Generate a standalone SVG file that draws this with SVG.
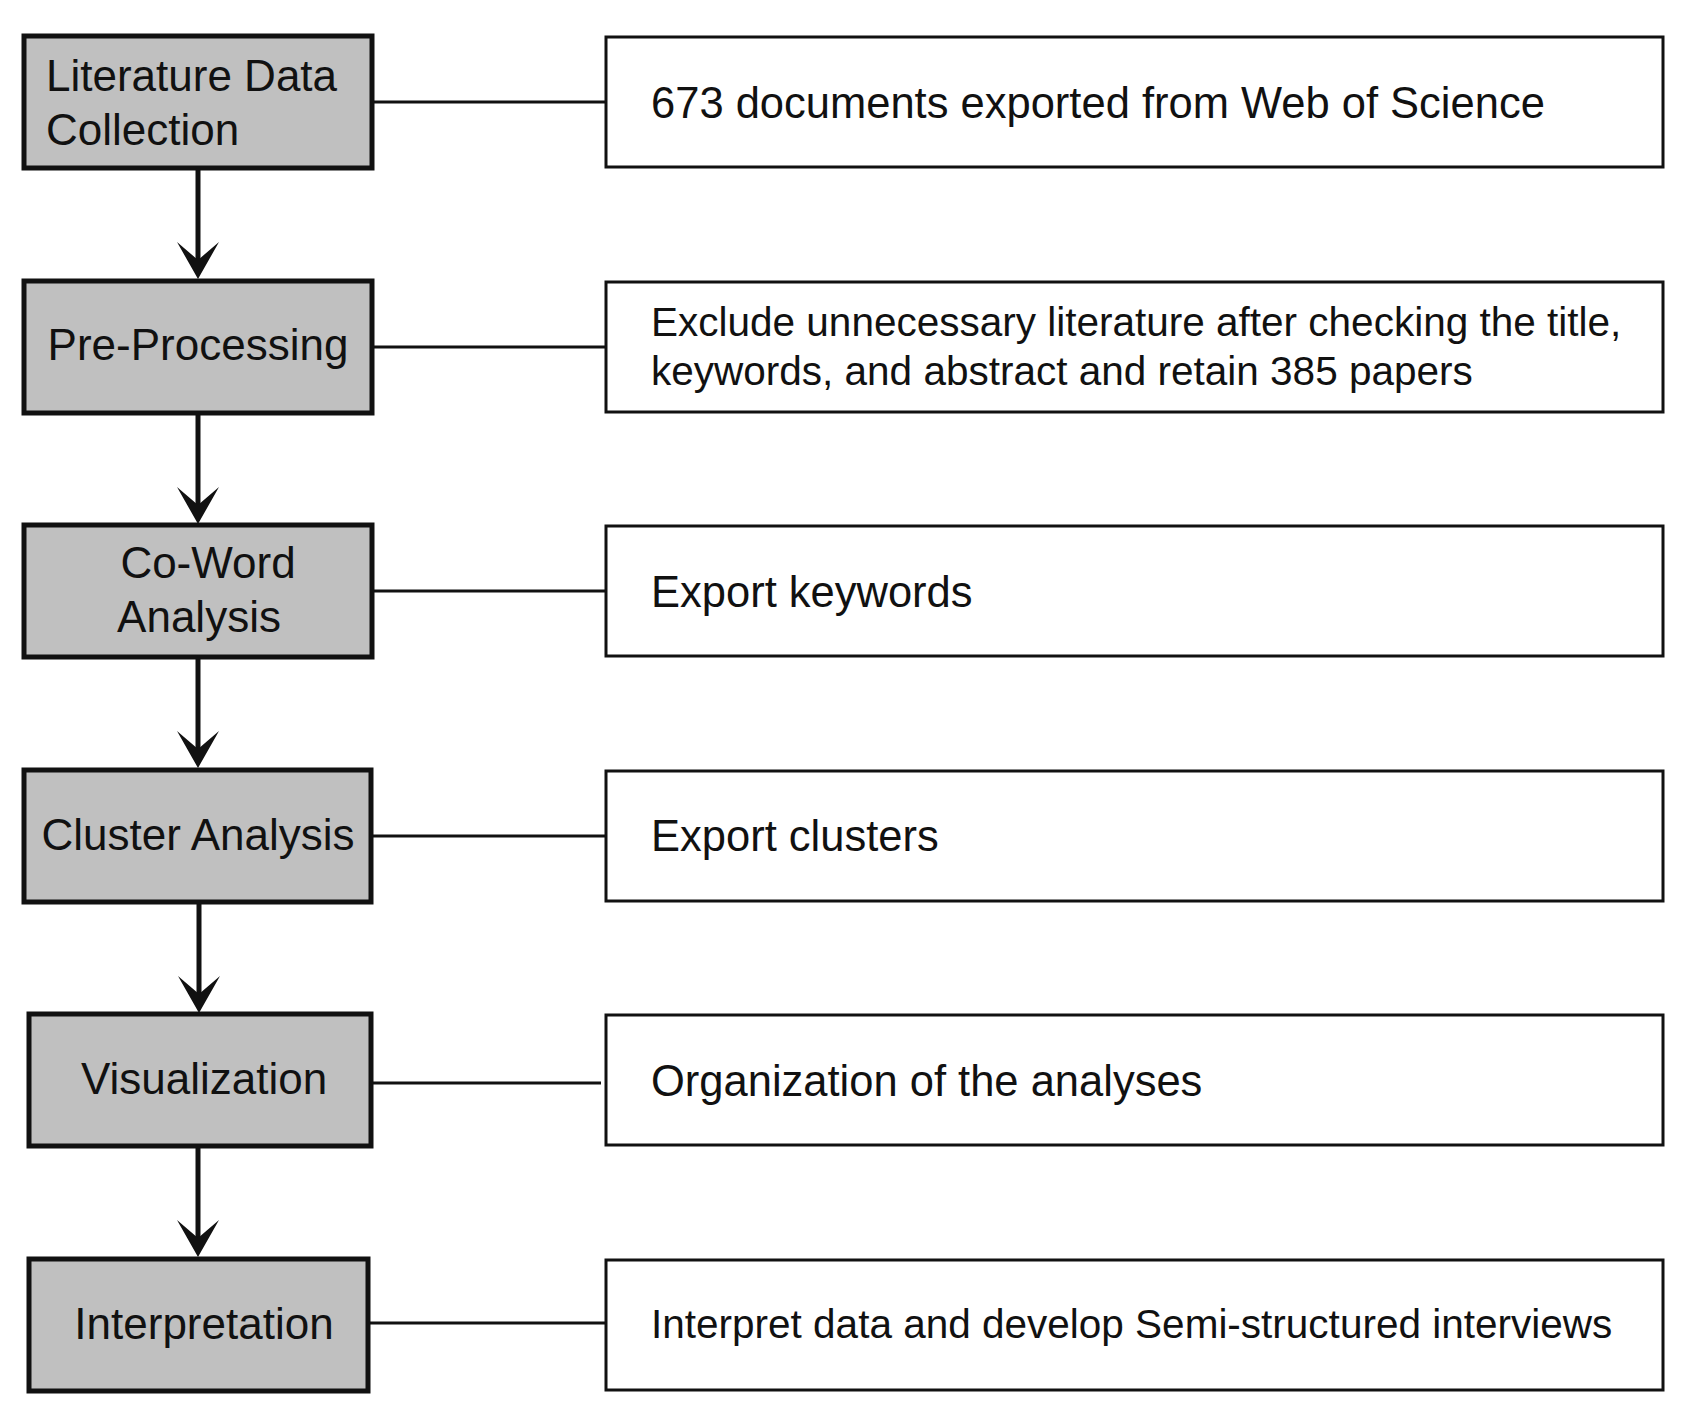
<svg xmlns="http://www.w3.org/2000/svg" width="1687" height="1405" viewBox="0 0 1687 1405">
<style>
.l{fill:#c0c0c0;stroke:#111;stroke-width:5}
.r{fill:#fff;stroke:#111;stroke-width:3}
text{font-family:"Liberation Sans",Arial,sans-serif;fill:#111}
.t{font-size:44px}
.u{font-size:43.5px}
.s{font-size:40.5px}
.c{stroke:#111;stroke-width:3;fill:none}
.a{stroke:#111;stroke-width:5;fill:none}
</style>
<rect width="1687" height="1405" fill="#fff"/>
<g id="connectors">
<line class="c" x1="372" y1="102" x2="606" y2="102"/>
<line class="c" x1="372" y1="347" x2="606" y2="347"/>
<line class="c" x1="372" y1="591" x2="606" y2="591"/>
<line class="c" x1="372" y1="836" x2="606" y2="836"/>
<line class="c" x1="372" y1="1083" x2="601" y2="1083"/>
<line class="c" x1="369" y1="1323" x2="606" y2="1323"/>
<g id="arrows">
<line class="a" x1="198" y1="168" x2="198" y2="272"/><path d="M177 242 L198 279 L219 242 L198 260 Z" fill="#111"/>
<line class="a" x1="198" y1="413" x2="198" y2="516"/><path d="M177 487 L198 524 L219 487 L198 505 Z" fill="#111"/>
<line class="a" x1="198" y1="657" x2="198" y2="761"/><path d="M177 731 L198 768 L219 731 L198 749 Z" fill="#111"/>
<line class="a" x1="199" y1="902" x2="199" y2="1005"/><path d="M178 976 L199 1013 L220 976 L199 994 Z" fill="#111"/>
<line class="a" x1="198" y1="1146" x2="198" y2="1250"/><path d="M177 1220 L198 1257 L219 1220 L198 1238 Z" fill="#111"/>
</g>
</g>
<g id="n1"><rect class="l" x="24" y="36" width="348" height="132"/><text class="t" x="46" y="91">Literature Data</text><text class="t" x="46" y="145">Collection</text></g>
<g id="n2"><rect class="l" x="24" y="281" width="348" height="132"/><text class="t" x="198" y="360" text-anchor="middle">Pre-Processing</text></g>
<g id="n3"><rect class="l" x="24" y="525" width="348" height="132"/><text class="t" x="208" y="578" text-anchor="middle">Co-Word</text><text class="t" x="199" y="632" text-anchor="middle">Analysis</text></g>
<g id="n4"><rect class="l" x="24" y="770" width="347" height="132"/><text class="t" x="198" y="850" text-anchor="middle">Cluster Analysis</text></g>
<g id="n5"><rect class="l" x="29" y="1014" width="342" height="132"/><text class="t" x="204" y="1094" text-anchor="middle">Visualization</text></g>
<g id="n6"><rect class="l" x="29" y="1259" width="339" height="132"/><text class="t" x="204" y="1339" text-anchor="middle">Interpretation</text></g>
<g id="d1"><rect class="r" x="606" y="37" width="1057" height="130"/><text class="u" x="651" y="118">673 documents exported from Web of Science</text></g>
<g id="d2"><rect class="r" x="606" y="282" width="1057" height="130"/><text class="s" x="651" y="336">Exclude unnecessary literature after checking the title,</text><text class="s" x="651" y="385">keywords, and abstract and retain 385 papers</text></g>
<g id="d3"><rect class="r" x="606" y="526" width="1057" height="130"/><text class="u" x="651" y="607">Export keywords</text></g>
<g id="d4"><rect class="r" x="606" y="771" width="1057" height="130"/><text class="u" x="651" y="851">Export clusters</text></g>
<g id="d5"><rect class="r" x="606" y="1015" width="1057" height="130"/><text class="u" x="651" y="1096">Organization of the analyses</text></g>
<g id="d6"><rect class="r" x="606" y="1260" width="1057" height="130"/><text class="s" x="651" y="1338">Interpret data and develop Semi-structured interviews</text></g>
</svg>
